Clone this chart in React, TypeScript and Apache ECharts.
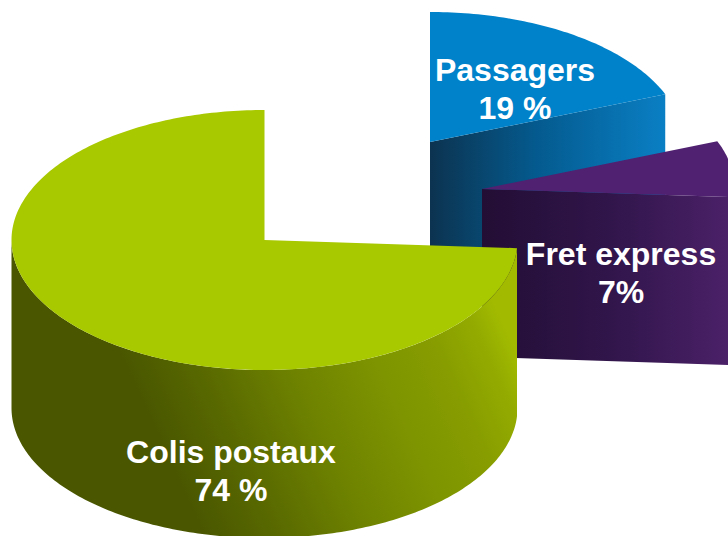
import React, { useEffect, useRef } from "react";
import * as echarts from "echarts";

const categories = ["Passagers", "Fret express", "Colis postaux"];
const values = [19, 7, 74];
const percentLabels = ["19 %", "7%", "74 %"];

const topColors = ["#0082ca", "#4f2170", "#a8c800"];
const wallStops = [
  [[0, "#0c3350"], [0.45, "#045a8e"], [1, "#0a7fc4"]],
  [[0, "#230e35"], [0.5, "#30154a"], [1, "#4c2169"]],
  [[0, "#4a5700"], [0.27, "#4a5700"], [0.4, "#586800"], [0.57, "#6e8200"], [0.74, "#7f9500"], [0.85, "#869c00"], [0.95, "#94ac00"], [1, "#a2bb00"]],
];
const wallDirections = [
  [0, 0, 1, 0],
  [0, 0, 1, 0],
  [0, 0.65, 1, 0.38],
];
const centers = [[430, 142], [482, 189], [264.5, 240]];
const labelPositions = [[515, 89], [621, 273], [231, 471]];
const RX = 253;
const RY = 130;
const DEPTH = 168;

const total = values.reduce((a, b) => a + b, 0);
const rad = (deg: number) => (deg * Math.PI) / 180;

function rim(cx: number, cy: number, from: number, to: number, dy = 0) {
  const pts: number[][] = [];
  const steps = Math.max(2, Math.ceil(to - from));
  for (let i = 0; i <= steps; i++) {
    const a = rad(from + ((to - from) * i) / steps);
    pts.push([cx + RX * Math.sin(a), cy - RY * Math.cos(a) + dy]);
  }
  return pts;
}

function renderSlice(params: any, api: any) {
  const i = params.dataIndex;
  const before = values.slice(0, i).reduce((a, b) => a + b, 0);
  const start = (before / total) * 360;
  const end = start + (api.value(0) / total) * 360;
  const [cx, cy] = centers[i];
  const d = wallDirections[i];
  const fill = new echarts.graphic.LinearGradient(
    d[0], d[1], d[2], d[3],
    wallStops[i].map(([offset, color]) => ({ offset: offset as number, color: color as string }))
  );
  const children: any[] = [];

  // visible outer wall: the front half of the ellipse
  const wFrom = Math.max(start, 90);
  const wTo = Math.min(end, 270);
  if (wTo > wFrom) {
    const upper = rim(cx, cy, wFrom, wTo);
    const lower = rim(cx, cy, wFrom, wTo, DEPTH).reverse();
    children.push({
      type: "polygon",
      shape: { points: upper.concat(lower) },
      style: { fill },
    });
  }
  // visible cut face
  if (Math.sin(rad(end)) > 0.001) {
    const [p] = rim(cx, cy, end, end + 1);
    children.push({
      type: "polygon",
      shape: { points: [[cx, cy], p, [p[0], p[1] + DEPTH], [cx, cy + DEPTH]] },
      style: { fill },
    });
  }
  // top surface
  children.push({
    type: "polygon",
    shape: { points: [[cx, cy], ...rim(cx, cy, start, end)] },
    style: { fill: topColors[i] },
  });
  const [lx, ly] = labelPositions[i];
  children.push({
    type: "text",
    x: lx,
    y: ly,
    z2: 10,
    style: {
      text: `${categories[i]}\n${percentLabels[i]}`,
      fill: "#ffffff",
      font: 'bold 32px "Liberation Sans", Arial, sans-serif',
      lineHeight: 38,
      align: "center",
      verticalAlign: "middle",
    },
  });
  return { type: "group", children };
}

export default function App() {
  const ref = useRef<HTMLDivElement>(null);
  useEffect(() => {
    const chart = echarts.init(ref.current!, undefined, { renderer: "svg" });
    chart.setOption({
      animation: false,
      backgroundColor: "#ffffff",
      series: [
        {
          type: "custom",
          coordinateSystem: "none",
          clip: false,
          silent: true,
          renderItem: renderSlice,
          data: categories.map((name, i) => ({ name, value: values[i] })),
        },
      ],
    });
    return () => chart.dispose();
  }, []);
  return (
    <div
      ref={ref}
      style={{ position: "absolute", left: 0, top: 0, width: 728, height: 536, overflow: "hidden" }}
    />
  );
}
